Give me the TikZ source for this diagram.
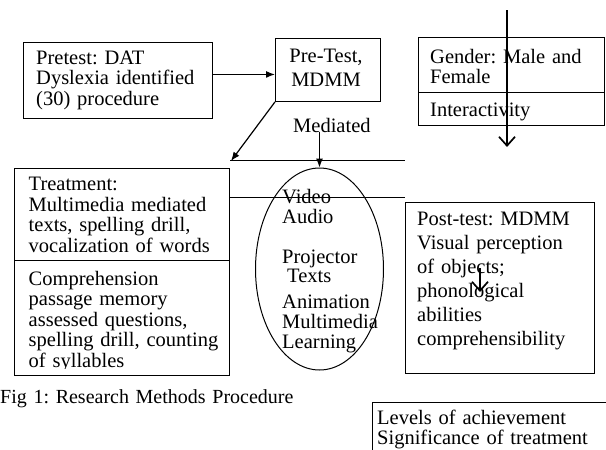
\documentclass[tikz,border=0pt]{standalone}
\usepackage{fontspec}
\setmainfont{Liberation Serif}
\usetikzlibrary{arrows.meta,shapes.geometric}
\newcommand\dfont{\fontsize{20.5}{20.5}\selectfont}
\newcommand\dfontw{\fontsize{20.5}{24}\selectfont}
\frenchspacing
\begin{document}
\begin{tikzpicture}[x=1pt,y=-1pt,
  box/.style={draw, line width=0.9pt, rectangle, inner sep=0pt, anchor=north west},
  txt/.style={anchor=base west, inner sep=0pt, align=left, text width=400pt, font=\dfont},
  txtw/.style={txt, font=\dfontw},
  plain/.style={line width=1pt},
  arr/.style={line width=1.2pt, -{Latex[length=9pt,width=7pt]}},
  barb/.style={line width=1.7pt, -{Straight Barb[length=9pt,width=16pt]}}]
\useasboundingbox (0,0) rectangle (606,450);
\clip (0,0) rectangle (606,450);

% boxes
\node[box, minimum width=189pt, minimum height=76pt] (pretest) at (23,42) {};
\node[box, minimum width=105pt, minimum height=63pt] (pre) at (275,38) {};
\node[box, minimum width=186pt, minimum height=88pt] (gender) at (418,37) {};
\node[box, minimum width=215pt, minimum height=207pt] (treat) at (14,168) {};
\node[box, minimum width=189pt, minimum height=171pt] (post) at (405,202) {};
\node[box, minimum width=245pt, minimum height=70pt] (levels) at (372,402) {};
\node[draw, line width=1pt, ellipse, inner sep=0pt, minimum width=128pt, minimum height=202pt] (ell) at (319.5,269) {};

% dividers
\coordinate (gdivl) at (418,92);
\coordinate (gdivr) at (604,92);
\draw[plain] (gdivl) -- (gdivr);
\coordinate (tdivl) at (14,260);
\coordinate (tdivr) at (229,260);
\draw[plain] (tdivl) -- (tdivr);

% texts
\node[txt] (pretesttxt) at (36,64) {Pretest: DAT\\Dyslexia identified\\(30) procedure};
\node[anchor=base, inner sep=0pt, align=center, text width=105pt, font=\dfontw] (pretxt) at (326,62) {Pre-Test,\\MDMM};
\node[txt] (med) at (293,132) {Mediated};
\node[txt] (gendertxt) at (430,63) {Gender: Male and\\Female};
\node[txt] (interact) at (430,116) {Interactivity};
\begin{scope}
  \clip (14,168) rectangle (229,252);
  \node[txt] (treattxt) at (28.5,190.5) {Treatment:\\Multimedia mediated\\texts, spelling drill,\\vocalization of words};
\end{scope}
\begin{scope}
  \clip (14,260) rectangle (229,368.5);
  \node[txt] (comptxt) at (28.5,285) {Comprehension\\passage memory\\assessed questions,\\spelling drill, counting\\of syllables};
\end{scope}
\node[txt] (media1) at (282,203) {Video\\Audio};
\node[txt, font=\fontsize{20.5}{19.5}\selectfont] (media2) at (282,263) {Projector\\\hspace*{5pt}Texts};
\node[txt, font=\fontsize{20.5}{20}\selectfont] (media3) at (282,308) {Animation\\Multimedia\\Learning};
\node[txtw] (posttxt) at (417,225) {Post-test: MDMM\\Visual perception\\of objects;\\phonological\\abilities\\comprehensibility};
\node[txt] (leveltxt) at (377,424) {Levels of achievement\\Significance of treatment};
\node[txt, font=\fontsize{20}{20}\selectfont] (caption) at (0,403) {Fig 1: Research Methods Procedure};

% connectors
\draw[arr] ([yshift=6pt]pretest.east) -- ([yshift=6pt]pretest.east -| pre.west);
\coordinate (diagend) at (231,161);
\draw[arr] (pre.south west) -- (diagend);
\coordinate (h1a) at (230,160);
\coordinate (h1b) at (405,160);
\draw[plain] (h1a) -- (h1b);
\coordinate (h2a) at (230,197);
\coordinate (h2b) at (405,197);
\draw[plain] (h2a) -- (h2b);
\draw[arr] (med.south -| ell.north) -- (ell.north);
\coordinate (vtop) at (507,10);
\coordinate (vbot) at (507,147);
\draw[barb] (vtop) -- (vbot);
\coordinate (stop) at (480,268);
\coordinate (sbot) at (480,292);
\draw[barb] (stop) -- (sbot);
\end{tikzpicture}
\end{document}
